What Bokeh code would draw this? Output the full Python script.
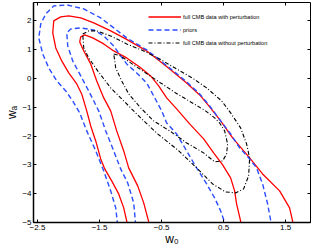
from bokeh.plotting import figure
from bokeh.models import Range1d, FixedTicker, LinearAxis, Legend, LegendItem
from bokeh.embed import file_html
from bokeh.resources import INLINE

# ---- tick values / labels ----
x_ticks = [-2.5, -1.5, -0.5, 0.5, 1.5]
x_tick_labels = ["\u22122.5", "\u22121.5", "\u22120.5", "0.5", "1.5"]
y_ticks = [-5, -4, -3, -2, -1, 0, 1, 2]
y_tick_labels = ["\u22125", "\u22124", "\u22123", "\u22122", "\u22121", "0", "1", "2"]

x_label = "w\u2080"
y_label = "w\u2090"
series_labels = ["full CMB data with perturbation", "priors",
                 "full CMB data without perturbation"]

# ---- contours (w0, wa) ----
red_outer_w0 = [-1.046, -1.110, -1.191, -1.304, -1.416, -1.481, -1.561, -1.642, -1.706, -1.787,
                -1.867, -1.996, -2.109, -2.205, -2.254, -2.238, -2.125, -1.996, -1.803, -1.593,
                -1.320, -1.078, -0.740, -0.531, -0.370, -0.096, 0.114, 0.275, 0.452, 0.645,
                0.919, 1.128, 1.402, 1.563, 1.627]
red_outer_wa = [-5.1, -4.493, -4.007, -3.556, -3.139, -2.792, -2.167, -1.646, -1.125, -0.535,
                -0.188, 0.194, 0.611, 1.063, 1.583, 2.0, 2.139, 2.174, 2.104, 1.931,
                1.653, 1.375, 0.958, 0.611, 0.333, -0.153, -0.569, -0.986, -1.472, -2.063,
                -2.757, -3.313, -3.903, -4.493, -5.1]

red_inner_w0 = [-0.692, -0.788, -0.885, -1.030, -1.110, -1.223, -1.320, -1.432, -1.545, -1.642,
                -1.754, -1.819, -1.803, -1.738, -1.610, -1.432, -1.271, -1.062, -0.853, -0.676,
                -0.547, -0.418, -0.257, -0.048, 0.178, 0.339, 0.484, 0.613, 0.677, 0.709, 0.790]
red_inner_wa = [-5.1, -4.319, -3.729, -3.104, -2.514, -1.819, -1.125, -0.674, -0.083, 0.507,
                0.958, 1.271, 1.444, 1.514, 1.410, 1.201, 0.958, 0.715, 0.403, 0.090,
                -0.257, -0.674, -1.056, -1.576, -2.097, -2.583, -3.0, -3.451, -3.903, -4.354, -5.1]

blue_outer_w0 = [-1.207, -1.239, -1.320, -1.432, -1.561, -1.706, -1.819, -1.932, -2.044, -2.189,
                 -2.318, -2.415, -2.479, -2.447, -2.366, -2.238, -2.028, -1.754, -1.481, -1.271,
                 -1.062, -0.740, -0.531, -0.370, -0.096, 0.114, 0.275, 0.452, 0.613, 0.758,
                 0.919, 1.031, 1.128, 1.209, 1.273]
blue_outer_wa = [-5.1, -4.493, -3.903, -3.208, -2.514, -1.819, -1.194, -0.778, -0.431, -0.083,
                 0.368, 0.854, 1.410, 1.896, 2.243, 2.521, 2.556, 2.417, 2.104, 1.757,
                 1.410, 0.993, 0.646, 0.368, -0.118, -0.535, -0.951, -1.472, -1.924, -2.410,
                 -2.792, -3.104, -3.660, -4.354, -5.1]

blue_inner_w0 = [-0.917, -0.949, -1.046, -1.159, -1.271, -1.400, -1.513, -1.674, -1.803, -1.932,
                 -2.012, -2.028, -1.964, -1.803, -1.593, -1.432, -1.271, -1.159, -1.062, -0.901,
                 -0.740, -0.627, -0.498, -0.418, -0.257, -0.096, 0.065, 0.226, 0.355, 0.452, 0.532]
blue_inner_wa = [-5.1, -4.319, -3.625, -3.139, -2.514, -1.819, -1.125, -0.431, 0.090, 0.611,
                 1.132, 1.583, 1.722, 1.757, 1.688, 1.479, 1.132, 0.785, 0.507, 0.194,
                 -0.153, -0.604, -1.125, -1.542, -1.924, -2.514, -3.104, -3.660, -4.146, -4.597, -5.1]

black_outer_w0 = [-1.771, -1.674, -1.545, -1.320, -1.062, -0.788, -0.531, -0.257, 0.017, 0.226,
                  0.468, 0.613, 0.774, 0.870, 0.919, 0.903, 0.822, 0.693, 0.532, 0.323,
                  0.049, -0.241, -0.563, -0.837, -1.110, -1.320, -1.529, -1.674, -1.754, -1.771]
black_outer_wa = [1.549, 1.653, 1.653, 1.479, 1.201, 0.958, 0.681, 0.333, -0.014, -0.326,
                  -0.778, -1.194, -1.715, -2.271, -2.757, -3.382, -3.833, -3.972, -3.938, -3.660,
                  -3.069, -2.479, -1.924, -1.368, -0.778, -0.326, 0.264, 0.715, 1.063, 1.549]

black_inner_w0 = [-1.271, -1.159, -0.998, -0.756, -0.515, -0.273, -0.031, 0.210, 0.355, 0.435,
                  0.516, 0.564, 0.548, 0.484, 0.355, 0.178, -0.096, -0.370, -0.628, -0.837,
                  -1.030, -1.143, -1.239, -1.271]
black_inner_wa = [0.854, 0.785, 0.542, 0.194, -0.153, -0.5, -0.813, -1.125, -1.368, -1.542,
                  -1.819, -2.271, -2.618, -2.861, -2.896, -2.583, -2.236, -1.819, -1.472, -1.021,
                  -0.535, -0.083, 0.368, 0.854]

FONT = "Liberation Sans"
RED = "#ff0000"
BLUE = "#2a4dff"
BLACK = "#000000"

p = figure(width=315, height=251,
           x_range=Range1d(-2.564, 1.9), y_range=Range1d(-5, 2.64),
           output_backend="svg", toolbar_location=None,
           min_border_left=33, min_border_right=5, min_border_top=2, min_border_bottom=29)
p.xgrid.visible = False
p.ygrid.visible = False
p.outline_line_color = "black"
p.outline_line_width = 1
p.background_fill_color = "white"
p.border_fill_color = "white"

for ax, ticks, labels in ((p.xaxis[0], x_ticks, x_tick_labels), (p.yaxis[0], y_ticks, y_tick_labels)):
    ax.ticker = FixedTicker(ticks=ticks)
    ax.major_label_overrides = {t: l for t, l in zip(ticks, labels)}
    ax.major_tick_in = 3
    ax.major_tick_out = 0
    ax.minor_tick_line_color = None
    ax.axis_line_width = 1.5
    ax.major_label_text_font = FONT
    ax.major_label_text_font_size = "8px"
    ax.major_label_text_color = "black"
    ax.major_label_standoff = 2
    ax.axis_label_text_font = FONT
    ax.axis_label_text_font_size = "12px"
    ax.axis_label_text_font_style = "normal"
    ax.axis_label_text_color = "black"

p.xaxis[0].axis_label = x_label
p.xaxis[0].axis_label_standoff = -1
p.yaxis[0].axis_label = y_label
p.yaxis[0].axis_label_standoff = 0

for loc, ticks in (("above", x_ticks), ("right", y_ticks)):
    ax = LinearAxis(ticker=FixedTicker(ticks=ticks), major_tick_in=3, major_tick_out=0,
                    minor_tick_line_color=None, major_label_text_font_size="1px",
                    major_label_text_color=None, major_label_standoff=0, axis_line_color=None)
    p.add_layout(ax, loc)

r_red_o = p.line(red_outer_w0, red_outer_wa, line_color=RED, line_width=1.3)
r_red_i = p.line(red_inner_w0, red_inner_wa, line_color=RED, line_width=1.3)
r_blue_o = p.line(blue_outer_w0, blue_outer_wa, line_color=BLUE, line_width=1.4, line_dash="5 3")
r_blue_i = p.line(blue_inner_w0, blue_inner_wa, line_color=BLUE, line_width=1.4, line_dash="5 3")
r_blk_o = p.line(black_outer_w0, black_outer_wa, line_color=BLACK, line_width=1.1, line_dash="4 2 1 2")
r_blk_i = p.line(black_inner_w0, black_inner_wa, line_color=BLACK, line_width=1.1, line_dash="4 2 1 2")

legend = Legend(items=[LegendItem(label=series_labels[0], renderers=[r_red_o]),
                       LegendItem(label=series_labels[1], renderers=[r_blue_o]),
                       LegendItem(label=series_labels[2], renderers=[r_blk_o])],
                location=(115, 173), glyph_width=33, glyph_height=13, label_height=13,
                spacing=0, padding=0, margin=0, label_standoff=2,
                label_text_font=FONT, label_text_font_size="5.6px", label_text_color="black",
                border_line_alpha=0, background_fill_alpha=0)
p.add_layout(legend)

open("out.html", "w").write(file_html(p, INLINE))
